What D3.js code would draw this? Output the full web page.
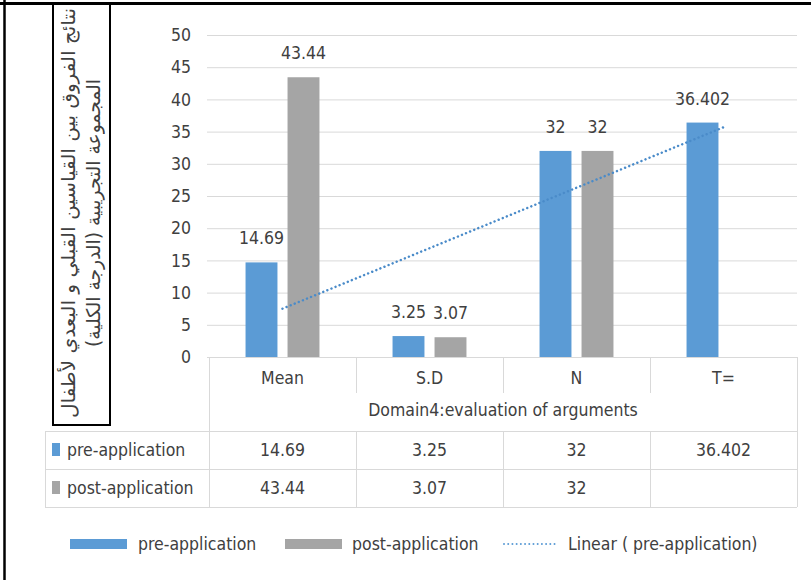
<!DOCTYPE html>
<html>
<head>
<meta charset="utf-8">
<script src="https://cdn.jsdelivr.net/npm/d3@7"></script>
<style>
  html, body { margin: 0; padding: 0; background: #fff; }
  svg { display: block; }
  text { font-family: "Liberation Sans Narrow", "DejaVu Sans Condensed", "Liberation Sans", sans-serif; fill: #404040; }
</style>
</head>
<body>
<svg id="chart" width="811" height="580"></svg>
<script>
// Categories of the fourth domain and the two measurement series
const categories = ["Mean", "S.D", "N", "T="];
const seriesNames = ["pre-application", "post-application"];
const preValues = [14.69, 3.25, 32, 36.402];
const postValues = [43.44, 3.07, 32, null];
const valueLabelsPre = ["14.69", "3.25", "32", "36.402"];
const valueLabelsPost = ["43.44", "3.07", "32", ""];
const yTicks = [0, 5, 10, 15, 20, 25, 30, 35, 40, 45, 50];
const axisGroupTitle = "Domain4:evaluation of arguments";
const yTitleLines = [
  "نتائج الفروق بين القياسين القبلي و البعدي لأطفال",
  "المجموعة التجريبية (الدرجة الكلية)"
];
const trendLabel = "Linear ( pre-application)";

const colors = { pre: "#5b9bd5", post: "#a5a5a5", grid: "#d9d9d9", table: "#d9d9d9" };

const svg = d3.select("#chart");

// Plot geometry
const plot = { left: 209, right: 797, top: 35, bottom: 357 };
const tableTop = 431, rowH = 38, tableLeft = 45;

const x = d3.scaleBand().domain(categories).range([plot.left, plot.right]).padding(0);
const xs = d3.scaleBand().domain(seriesNames).range([0, x.bandwidth()])
  .paddingInner(0.24).paddingOuter(0.87);
const y = d3.scaleLinear().domain([0, 50]).range([plot.bottom, plot.top]);

// Outer frame (top and left edges)
svg.append("line").attr("x1", 0).attr("x2", 811).attr("y1", 3.5).attr("y2", 3.5)
  .attr("stroke", "#000").attr("stroke-width", 3);
svg.append("line").attr("x1", 4.5).attr("x2", 4.5).attr("y1", 0).attr("y2", 580)
  .attr("stroke", "#000").attr("stroke-width", 2.5);

// Gridlines and y tick labels
const yAxis = d3.axisLeft(y).tickValues(yTicks).tickSize(-(plot.right - plot.left + 2)).tickPadding(16);
const gy = svg.append("g").attr("transform", `translate(${plot.left - 2},0)`).call(yAxis);
gy.select(".domain").remove();
gy.selectAll(".tick line").attr("stroke", colors.grid).attr("stroke-width", 1);
gy.selectAll(".tick text").attr("font-size", 17.5).attr("fill", "#404040")
  .style("font-family", '"Liberation Sans Narrow", "DejaVu Sans Condensed", sans-serif');

// Bars
const rows = categories.map((c, i) => ({ cat: c, pre: preValues[i], post: postValues[i],
  preLabel: valueLabelsPre[i], postLabel: valueLabelsPost[i] }));

const barData = [];
rows.forEach(r => {
  barData.push({ cat: r.cat, s: seriesNames[0], v: r.pre, label: r.preLabel, color: colors.pre });
  if (r.post !== null) barData.push({ cat: r.cat, s: seriesNames[1], v: r.post, label: r.postLabel, color: colors.post });
});

svg.append("g").selectAll("rect").data(barData).join("rect")
  .attr("x", d => x(d.cat) + xs(d.s))
  .attr("width", xs.bandwidth())
  .attr("y", d => y(d.v))
  .attr("height", d => y(0) - y(d.v))
  .attr("fill", d => d.color);

// Value labels above bars
svg.append("g").selectAll("text").data(barData).join("text")
  .attr("x", d => x(d.cat) + xs(d.s) + xs.bandwidth() / 2)
  .attr("y", d => y(d.v) - 18)
  .attr("text-anchor", "middle")
  .attr("font-size", 17.5)
  .text(d => d.label);

// Linear trendline of the pre-application series (least squares over category index)
const n = preValues.length;
const idx = d3.range(1, n + 1);
const mx = d3.mean(idx), my = d3.mean(preValues);
const slope = d3.sum(idx, (k, i) => (k - mx) * (preValues[i] - my)) / d3.sum(idx, k => (k - mx) ** 2);
const intercept = my - slope * mx;
const trendPts = [1, n].map(k => [x(categories[k - 1]) + x.bandwidth() / 2, y(intercept + slope * k)]);
svg.append("path")
  .attr("d", d3.line()(trendPts))
  .attr("fill", "none").attr("stroke", "#4a8bc9").attr("stroke-width", 2.5)
  .attr("stroke-dasharray", "0.01 4.4").attr("stroke-linecap", "round");

// Category table under the axis
const tbl = svg.append("g").attr("stroke", colors.table).attr("stroke-width", 1).attr("shape-rendering", "crispEdges");
categories.forEach((c, i) => {
  if (i > 0) tbl.append("line").attr("x1", x(c)).attr("x2", x(c)).attr("y1", plot.bottom).attr("y2", 393);
});
tbl.append("line").attr("x1", plot.left).attr("x2", plot.left).attr("y1", plot.bottom).attr("y2", tableTop + 2 * rowH);
tbl.append("line").attr("x1", plot.right).attr("x2", plot.right).attr("y1", plot.bottom).attr("y2", tableTop + 2 * rowH);
[0, 1, 2].forEach(k => {
  tbl.append("line").attr("x1", tableLeft).attr("x2", plot.right)
    .attr("y1", tableTop + k * rowH).attr("y2", tableTop + k * rowH);
});
tbl.append("line").attr("x1", tableLeft).attr("x2", tableLeft).attr("y1", tableTop).attr("y2", tableTop + 2 * rowH);
categories.forEach((c, i) => {
  if (i > 0) tbl.append("line").attr("x1", x(c)).attr("x2", x(c)).attr("y1", tableTop).attr("y2", tableTop + 2 * rowH);
});

svg.append("g").selectAll("text").data(categories).join("text")
  .attr("x", d => x(d) + x.bandwidth() / 2)
  .attr("y", 384)
  .attr("text-anchor", "middle")
  .attr("font-size", 17.5)
  .text(d => d);

svg.append("text")
  .attr("x", (plot.left + plot.right) / 2)
  .attr("y", 416)
  .attr("text-anchor", "middle")
  .attr("font-size", 17.5)
  .text(axisGroupTitle);

// Data table rows
const tableRows = [
  { name: seriesNames[0], color: colors.pre, labels: valueLabelsPre },
  { name: seriesNames[1], color: colors.post, labels: valueLabelsPost }
];
tableRows.forEach((r, k) => {
  const cy = tableTop + k * rowH + rowH / 2;
  svg.append("rect").attr("x", 52).attr("y", cy - 7).attr("width", 8).attr("height", 13).attr("fill", r.color);
  svg.append("text").attr("x", 67).attr("y", cy + 6).attr("font-size", 17.5).text(r.name);
  r.labels.forEach((lab, i) => {
    svg.append("text")
      .attr("x", x(categories[i]) + x.bandwidth() / 2)
      .attr("y", cy + 6)
      .attr("text-anchor", "middle")
      .attr("font-size", 17.5)
      .text(lab);
  });
});

// Y axis title box with rotated Arabic title
svg.append("rect").attr("x", 53).attr("y", 3).attr("width", 57).attr("height", 422)
  .attr("fill", "none").attr("stroke", "#000").attr("stroke-width", 2);
const titleLengths = [410, 268];
const titleG = svg.append("g").attr("transform", "translate(81.5,213) rotate(-90)");
yTitleLines.forEach((line, i) => {
  titleG.append("text")
    .attr("x", 0).attr("y", -7 + i * 25)
    .attr("text-anchor", "middle")
    .attr("direction", "rtl")
    .attr("font-size", 19)
    .attr("textLength", titleLengths[i])
    .attr("lengthAdjust", "spacingAndGlyphs")
    .style("font-family", '"DejaVu Sans", "Noto Sans", sans-serif')
    .attr("fill", "#111")
    .text(line);
});

// Legend
const lg = svg.append("g");
const legendY = 544;
lg.append("rect").attr("x", 70).attr("y", legendY - 5).attr("width", 57).attr("height", 10).attr("fill", colors.pre);
lg.append("text").attr("x", 138).attr("y", legendY + 6).attr("font-size", 17.5).text(seriesNames[0]);
lg.append("rect").attr("x", 285).attr("y", legendY - 5).attr("width", 57).attr("height", 10).attr("fill", colors.post);
lg.append("text").attr("x", 352).attr("y", legendY + 6).attr("font-size", 17.5).text(seriesNames[1]);
lg.append("line").attr("x1", 504).attr("x2", 557).attr("y1", legendY).attr("y2", legendY)
  .attr("stroke", colors.pre).attr("stroke-width", 2).attr("stroke-dasharray", "0.01 4.2").attr("stroke-linecap", "round");
lg.append("text").attr("x", 568).attr("y", legendY + 6).attr("font-size", 17.5).text(trendLabel);
</script>
</body>
</html>
